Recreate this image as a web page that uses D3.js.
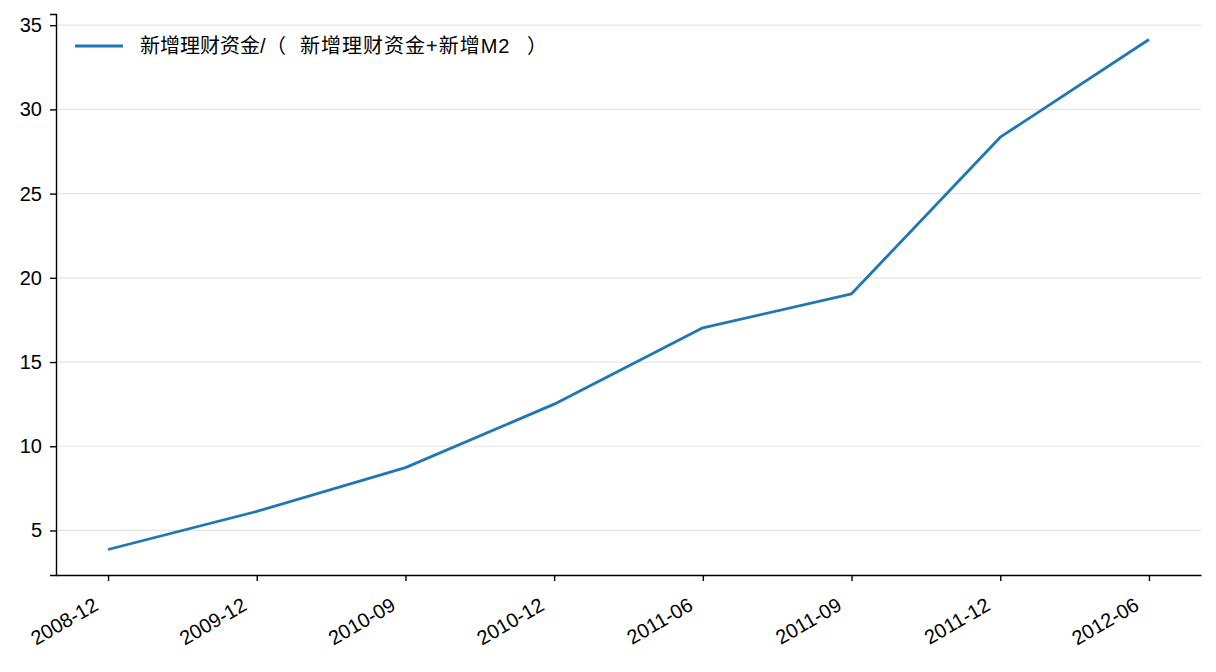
<!DOCTYPE html>
<html><head><meta charset="utf-8">
<script src="https://cdn.jsdelivr.net/npm/d3@7"></script>
<style>
html,body{margin:0;padding:0;background:#fff;}
text{font-family:"Liberation Sans", Arial, "Noto Sans CJK SC", sans-serif;}
</style></head>
<body>
<svg id="chart" width="1216" height="672"></svg>
<script>
const categories = ["2008-12","2009-12","2010-09","2010-12","2011-06","2011-09","2011-12","2012-06"];
const values = [3.87, 6.13, 8.73, 12.5, 17.03, 19.05, 28.35, 34.15];
const yTicks = [5, 10, 15, 20, 25, 30, 35];
const seriesName = ["新增理财资金/", "（", "新增理财资金+新增M2", "）"];

const svg = d3.select("#chart");
const L = 56, R = 1201, T = 14, B = 575;
const FS = 20;

const n = categories.length;
const x = d3.scaleLinear().domain([-0.35, n - 1 + 0.35]).range([L, R]);
const ext = d3.extent(values), pad = (ext[1] - ext[0]) * 0.05;
const y = d3.scaleLinear().domain([ext[0] - pad, ext[1] + pad]).range([B, T]);

// grid
svg.append("g").selectAll("line").data(yTicks).join("line")
  .attr("x1", L).attr("x2", R)
  .attr("y1", d => y(d)).attr("y2", d => y(d))
  .attr("stroke", "#e5e5e5").attr("stroke-width", 1.2);

// y axis
const yAxis = svg.append("g").attr("transform", `translate(${L},0)`)
  .call(d3.axisLeft(y).tickValues(yTicks).tickSize(6).tickPadding(8));
yAxis.select(".domain").attr("stroke", "#000").attr("stroke-width", 1.4);
yAxis.selectAll(".tick line").attr("stroke", "#000").attr("stroke-width", 1.4);
yAxis.selectAll(".tick text").attr("font-size", FS).attr("fill", "#000")
  .style("font-family", "'Liberation Sans', Arial, sans-serif");

// x axis
const xAxis = svg.append("g").attr("transform", `translate(0,${B})`)
  .call(d3.axisBottom(x).tickValues(d3.range(n)).tickFormat(i => categories[i]).tickSize(6).tickPadding(5).tickSizeOuter(0));
xAxis.select(".domain").attr("stroke", "#000").attr("stroke-width", 1.4);
xAxis.selectAll(".tick line").attr("stroke", "#000").attr("stroke-width", 1.4);
xAxis.selectAll(".tick text").attr("font-size", FS).attr("fill", "#000")
  .style("font-family", "'Liberation Sans', Arial, sans-serif")
  .attr("text-anchor", "end")
  .attr("dy", null).attr("y", 0)
  .attr("transform", "translate(-9,34) rotate(-30)");

// line
svg.append("path")
  .datum(values)
  .attr("fill", "none").attr("stroke", "#1f77b4").attr("stroke-width", 2.8)
  .attr("stroke-linejoin", "round")
  .attr("d", d3.line().x((d, i) => x(i)).y(d => y(d)));

// legend
const lg = svg.append("g");
lg.append("line").attr("x1", 75).attr("x2", 123).attr("y1", 46).attr("y2", 46)
  .attr("stroke", "#1f77b4").attr("stroke-width", 2.8);
const lt = lg.append("text").attr("y", 53).attr("font-size", FS).attr("fill", "#000")
  .style("font-family", "'Liberation Sans', Arial, 'Noto Sans CJK SC', sans-serif");
const lx = [140, 266, 300, 527];
const ls = [0, 0, 1, 0];
lt.selectAll("tspan").data(seriesName).join("tspan")
  .attr("x", (d, i) => lx[i])
  .attr("letter-spacing", (d, i) => ls[i])
  .text(d => d);
</script>
</body></html>
